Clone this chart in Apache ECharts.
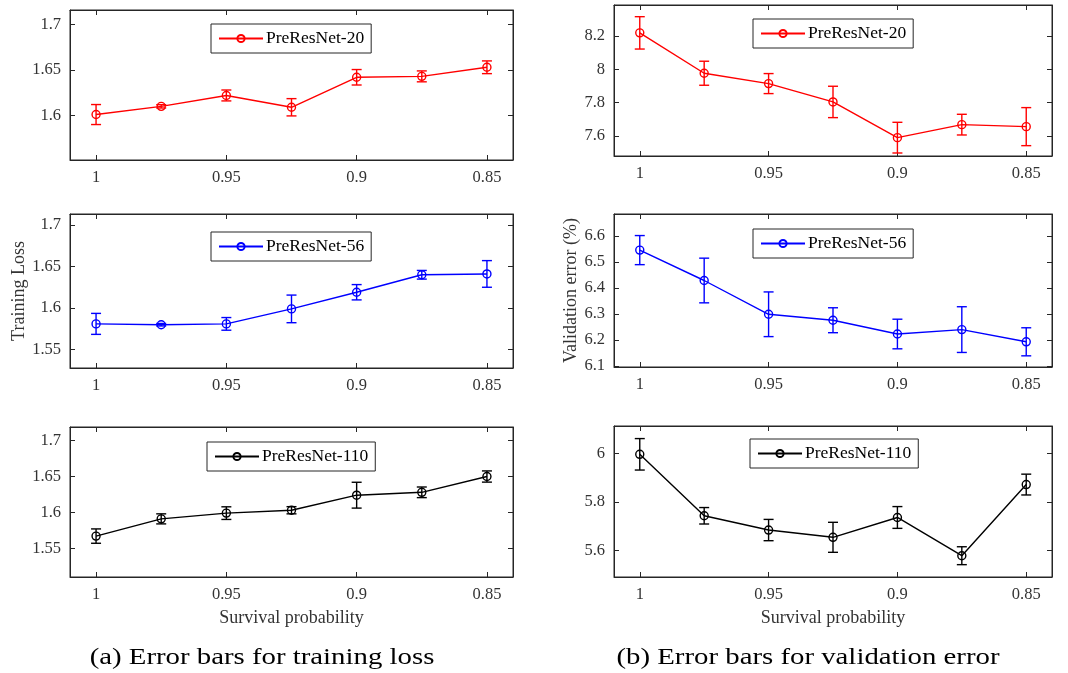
<!DOCTYPE html>
<html>
<head>
<meta charset="utf-8">
<script src="https://cdn.jsdelivr.net/npm/echarts@6/dist/echarts.min.js"></script>
<style>
  html, body { margin: 0; padding: 0; background: #fff; }
  #chart { width: 1068px; height: 673px; }
</style>
</head>
<body>
<div id="chart"></div>
<script>
// Survival probabilities on the x axis (drawn right-to-left, 1 down to 0.85)
const survival = [1, 0.975, 0.95, 0.925, 0.9, 0.875, 0.85];
const xTicks = [1, 0.95, 0.9, 0.85];

// Training loss: mean and half-width of error bar
const trainLoss20 = [1.601, 1.610, 1.622, 1.609, 1.642, 1.643, 1.653];
const trainErr20  = [0.011, 0.0018, 0.006, 0.0095, 0.0085, 0.006, 0.007];
const trainLoss56 = [1.581, 1.580, 1.581, 1.599, 1.619, 1.640, 1.641];
const trainErr56  = [0.0126, 0.0015, 0.0076, 0.0166, 0.0092, 0.0052, 0.016];
const trainLoss110 = [1.567, 1.591, 1.599, 1.603, 1.624, 1.628, 1.650];
const trainErr110  = [0.010, 0.007, 0.0088, 0.005, 0.018, 0.0074, 0.0078];

// Validation error (%): mean and half-width of error bar
const valErr20 = [8.218, 7.976, 7.914, 7.804, 7.590, 7.668, 7.656];
const valStd20 = [0.097, 0.072, 0.060, 0.094, 0.092, 0.062, 0.114];
const valErr56 = [6.546, 6.429, 6.299, 6.276, 6.223, 6.240, 6.193];
const valStd56 = [0.056, 0.086, 0.086, 0.048, 0.057, 0.088, 0.054];
const valErr110 = [5.997, 5.743, 5.684, 5.654, 5.736, 5.578, 5.872];
const valStd110 = [0.065, 0.034, 0.044, 0.062, 0.045, 0.037, 0.043];

// Y tick labels for each panel
const yTicksTrain20  = [1.6, 1.65, 1.7];
const yTicksTrain56  = [1.55, 1.6, 1.65, 1.7];
const yTicksTrain110 = [1.55, 1.6, 1.65, 1.7];
const yTicksVal20  = [7.6, 7.8, 8, 8.2];
const yTicksVal56  = [6.1, 6.2, 6.3, 6.4, 6.5, 6.6];
const yTicksVal110 = [5.6, 5.8, 6];

const names = ['PreResNet-20', 'PreResNet-56', 'PreResNet-110'];
const FONT = '"Liberation Serif", "Times New Roman", serif';
const AXIS_COLOR = '#262626';

const panels = [
  { name: names[0], mean: trainLoss20, err: trainErr20, color: '#ff0000', yMin: 1.551, yMax: 1.716, ticks: yTicksTrain20,
    grid: { left: 70, top: 10, width: 443, height: 150 }, legend: { left: 211, top: 24 } },
  { name: names[1], mean: trainLoss56, err: trainErr56, color: '#0000ff', yMin: 1.528, yMax: 1.713, ticks: yTicksTrain56,
    grid: { left: 70, top: 214, width: 443, height: 154 }, legend: { left: 211, top: 232 }, yName: 'Training Loss', yNameGap: 42 },
  { name: names[2], mean: trainLoss110, err: trainErr110, color: '#000000', yMin: 1.51, yMax: 1.719, ticks: yTicksTrain110,
    grid: { left: 70, top: 427, width: 443, height: 150 }, legend: { left: 207, top: 442 }, xName: 'Survival probability' },
  { name: names[0], mean: valErr20, err: valStd20, color: '#ff0000', yMin: 7.48, yMax: 8.385, ticks: yTicksVal20,
    grid: { left: 614, top: 5, width: 438, height: 151 }, legend: { left: 753, top: 19 } },
  { name: names[1], mean: valErr56, err: valStd56, color: '#0000ff', yMin: 6.096, yMax: 6.685, ticks: yTicksVal56,
    grid: { left: 614, top: 214, width: 438, height: 153 }, legend: { left: 753, top: 229 }, yName: 'Validation error (%)', yNameGap: 34 },
  { name: names[2], mean: valErr110, err: valStd110, color: '#000000', yMin: 5.49, yMax: 6.114, ticks: yTicksVal110,
    grid: { left: 614, top: 426, width: 438, height: 151 }, legend: { left: 750, top: 439 }, xName: 'Survival probability' }
];

const grids = [], xAxes = [], yAxes = [], series = [], legends = [];

function tickFmt(v) { return String(+v.toFixed(4)); }

panels.forEach((p, i) => {
  grids.push(Object.assign({ show: true, borderColor: AXIS_COLOR, borderWidth: 1, containLabel: false }, p.grid));

  const xBase = {
    type: 'value', gridIndex: i, min: 0.84, max: 1.01, inverse: true,
    splitLine: { show: false },
    axisLine: { show: true, onZero: false, lineStyle: { color: AXIS_COLOR, width: 1 } },
    axisTick: { show: true, inside: true, length: 5, customValues: xTicks, lineStyle: { color: AXIS_COLOR } }
  };
  xAxes.push(Object.assign({}, xBase, {
    position: 'bottom',
    axisLabel: { show: true, customValues: xTicks, formatter: tickFmt, margin: 9,
      color: '#333', fontFamily: FONT, fontSize: 16.5 },
    name: p.xName || '', nameLocation: 'middle', nameGap: 32,
    nameTextStyle: { color: '#333', fontFamily: FONT, fontSize: 18 }
  }));
  xAxes.push(Object.assign({}, xBase, { position: 'top', axisLabel: { show: false } }));

  const yBase = {
    type: 'value', gridIndex: i, min: p.yMin, max: p.yMax,
    splitLine: { show: false },
    axisLine: { show: true, onZero: false, lineStyle: { color: AXIS_COLOR, width: 1 } },
    axisTick: { show: true, inside: true, length: 5, customValues: p.ticks, lineStyle: { color: AXIS_COLOR } }
  };
  yAxes.push(Object.assign({}, yBase, {
    position: 'left',
    axisLabel: { show: true, customValues: p.ticks, formatter: tickFmt, margin: 9,
      color: '#333', fontFamily: FONT, fontSize: 16.5 },
    name: p.yName || '', nameLocation: 'middle', nameGap: p.yNameGap || 40,
    nameTextStyle: { color: '#333', fontFamily: FONT, fontSize: 18 }
  }));
  yAxes.push(Object.assign({}, yBase, { position: 'right', axisLabel: { show: false } }));

  // mean line with hollow circle markers
  series.push({
    type: 'line', name: p.name,
    xAxisIndex: 2 * i, yAxisIndex: 2 * i,
    data: survival.map((x, k) => [x, p.mean[k]]),
    symbol: 'circle', symbolSize: 8,
    itemStyle: { color: 'rgba(255,255,255,0)', borderColor: p.color, borderWidth: 1.4 },
    lineStyle: { color: p.color, width: 1.4 },
    emphasis: { disabled: true },
    animation: false, z: 3
  });

  // vertical error bars with caps
  series.push({
    type: 'custom', name: p.name + ' error',
    xAxisIndex: 2 * i, yAxisIndex: 2 * i,
    data: survival.map((x, k) => [x, p.mean[k], p.err[k]]),
    renderItem: (params, api) => {
      const x = api.value(0), m = api.value(1), e = api.value(2);
      const lo = api.coord([x, m - e]);
      const hi = api.coord([x, m + e]);
      const cap = 5;
      const st = { stroke: p.color, lineWidth: 1.4 };
      return {
        type: 'group',
        children: [
          { type: 'line', shape: { x1: lo[0], y1: lo[1], x2: hi[0], y2: hi[1] }, style: st },
          { type: 'line', shape: { x1: lo[0] - cap, y1: lo[1], x2: lo[0] + cap, y2: lo[1] }, style: st },
          { type: 'line', shape: { x1: hi[0] - cap, y1: hi[1], x2: hi[0] + cap, y2: hi[1] }, style: st }
        ]
      };
    },
    clip: false, silent: true, animation: false, z: 4
  });

  legends.push({
    data: [p.name], left: p.legend.left, top: p.legend.top,
    orient: 'horizontal', padding: [5.5, 7, 5.5, 7],
    itemWidth: 44, itemHeight: 9, itemGap: 0,
    backgroundColor: '#fff', borderColor: AXIS_COLOR, borderWidth: 1, borderRadius: 0,
    selectedMode: false,
    textStyle: { color: '#000', fontFamily: FONT, fontSize: 17.5, lineHeight: 15, padding: [0, 0, 0, -2] }
  });
});

// sub-figure captions, widened to the caption font's proportions
const captions = [
  { text: '(a) Error bars for training loss', x: 262, y: 658 },
  { text: '(b) Error bars for validation error', x: 808, y: 658 }
];

const chart = echarts.init(document.getElementById('chart'), null, { renderer: 'canvas' });
chart.setOption({
  backgroundColor: '#fff',
  animation: false,
  grid: grids,
  xAxis: xAxes,
  yAxis: yAxes,
  legend: legends,
  series: series,
  graphic: captions.map(c => ({
    type: 'text', x: c.x, y: c.y, scaleX: 1.28, silent: true,
    style: { text: c.text, fill: '#000', font: '22.5px ' + FONT, align: 'center', verticalAlign: 'middle' }
  }))
});
</script>
</body>
</html>
